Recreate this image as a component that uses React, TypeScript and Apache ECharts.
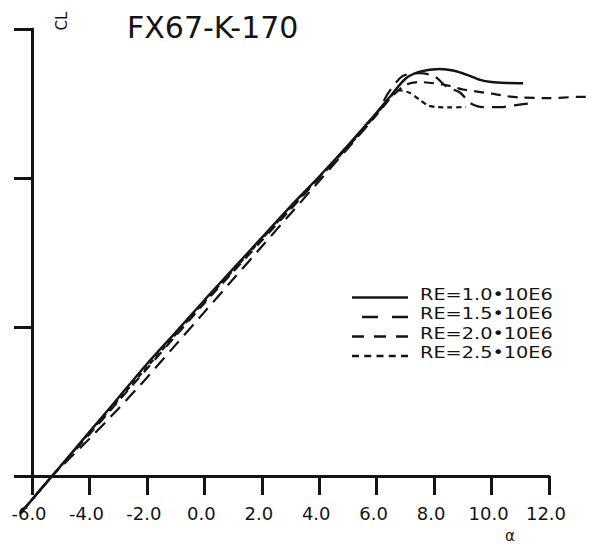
import React, { useEffect, useRef } from "react";
import * as echarts from "echarts";

// Axis ticks
const xTicks: number[] = [-6, -4, -2, 0, 2, 4, 6, 8, 10, 12];
const yTicks: number[] = [0, 0.5, 1.0, 1.5];

// Texts
const titleText = "FX67-K-170";
const yName = "CL";
const xName = "α";
const seriesNames: string[] = [
  "RE=1.0•10E6",
  "RE=1.5•10E6",
  "RE=2.0•10E6",
  "RE=2.5•10E6",
];

// [alpha, CL] pairs
const re10: [number, number][] = [
  [-6.4, -0.125], [-5.3, 0], [-4, 0.148], [-3, 0.262], [-2, 0.376], [-1, 0.482],
  [0, 0.59], [1, 0.695], [2, 0.8], [3, 0.905], [4, 1.005], [5, 1.11], [6, 1.22],
  [6.5, 1.277], [7.0, 1.333], [7.5, 1.357], [8.2, 1.366], [8.7, 1.36], [9.15, 1.346],
  [9.6, 1.329], [10.0, 1.322], [10.5, 1.319], [11.1, 1.318],
];
const re15: [number, number][] = [
  [-6.4, -0.125], [-5.3, 0], [-4, 0.125], [-3, 0.225], [-2, 0.33], [-1, 0.44],
  [0, 0.55], [1, 0.66], [2, 0.77], [3, 0.88], [4, 0.99], [5, 1.1], [6, 1.215],
  [6.4, 1.285], [6.9, 1.342], [7.5, 1.352], [8.0, 1.342], [8.45, 1.305], [8.9, 1.287],
  [9.25, 1.252], [9.7, 1.238], [10.3, 1.238], [10.8, 1.244], [11.3, 1.25],
];
const re20: [number, number][] = [
  [-6.4, -0.125], [-5.3, 0], [-4, 0.14], [-3, 0.25], [-2, 0.36], [-1, 0.47],
  [0, 0.58], [1, 0.685], [2, 0.79], [3, 0.895], [4, 1.0], [5, 1.105], [6, 1.212],
  [6.5, 1.27], [7.0, 1.312], [7.5, 1.322], [8.0, 1.318], [8.5, 1.31], [9.0, 1.297],
  [9.5, 1.29], [10.0, 1.283], [10.5, 1.275], [11.0, 1.27], [12.0, 1.268], [13.0, 1.272],
  [13.4, 1.272],
];
const re25: [number, number][] = [
  [-6.4, -0.125], [-5.3, 0], [-4, 0.145], [-3, 0.255], [-2, 0.365], [-1, 0.475],
  [0, 0.585], [1, 0.69], [2, 0.795], [3, 0.9], [4, 1.003], [5, 1.107], [6, 1.215],
  [6.4, 1.262], [6.75, 1.295], [7.16, 1.285], [7.5, 1.262], [7.8, 1.243], [8.1, 1.238],
  [8.6, 1.237], [9.1, 1.238],
];

const allData = [re10, re15, re20, re25];

// Layout / styles
const INK = "#141414";
const FONT = "DejaVu Sans";
const plotDash: (number[] | "solid")[] = ["solid", [14, 8], [10, 7], [5, 4]];
const plotWidth = [2.4, 2.2, 2.2, 2.2];
const legendDash: (number[] | null)[] = [null, [16, 14], [12, 10], [7, 5.25]];
const legendStart = [352, 362, 352, 352];

// visible plotting frame in pixels
const FRAME_LEFT = 32;
const FRAME_TOP = 29;
const FRAME_W = 517;
const FRAME_H = 447;
// wider (hidden) data frame so curves may run past the axes, like the plot
const DATA_X_MIN = -7;
const DATA_X_MAX = 13.4;
const DATA_Y_MIN = -0.2;

export default function App() {
  const ref = useRef<HTMLDivElement>(null);

  useEffect(() => {
    if (!ref.current) return;
    const chart = echarts.init(ref.current, null, { renderer: "svg" });

    const xMin = xTicks[0];
    const xMax = xTicks[xTicks.length - 1];
    const yMin = yTicks[0];
    const yMax = yTicks[yTicks.length - 1];
    const pxPerX = FRAME_W / (xMax - xMin);
    const pxPerY = FRAME_H / (yMax - yMin);

    const legendGraphics: any[] = [];
    seriesNames.forEach((name, i) => {
      const yText = 293 + i * 19.5;
      const yLine = yText + 4.5;
      legendGraphics.push({
        type: "line",
        shape: { x1: legendStart[i], y1: yLine, x2: 408, y2: yLine },
        style: {
          stroke: INK,
          lineWidth: 2.5,
          lineDash: legendDash[i] || undefined,
        },
      });
      legendGraphics.push({
        type: "text",
        x: 420,
        y: yText + 1,
        scaleX: 1.17,
        style: {
          text: name,
          fontSize: 16.5,
          fontFamily: FONT,
          fill: INK,
          align: "left",
          verticalAlign: "middle",
          textAlign: "left",
          textVerticalAlign: "middle",
        },
      });
    });

    chart.setOption({
      animation: false,
      backgroundColor: "#ffffff",
      grid: [
        {
          left: FRAME_LEFT,
          top: FRAME_TOP,
          width: FRAME_W,
          height: FRAME_H,
          containLabel: false,
          outerBoundsMode: "none",
        },
        {
          left: FRAME_LEFT - (xMin - DATA_X_MIN) * pxPerX,
          top: FRAME_TOP,
          width: (DATA_X_MAX - DATA_X_MIN) * pxPerX,
          height: (yMax - DATA_Y_MIN) * pxPerY,
          containLabel: false,
          outerBoundsMode: "none",
        },
      ],
      xAxis: [
        {
          type: "value",
          gridIndex: 0,
          min: xMin,
          max: xMax,
          interval: xTicks[1] - xTicks[0],
          axisLine: { show: true, onZero: false, lineStyle: { color: INK, width: 3 } },
          axisTick: { show: true, inside: false, length: 19, lineStyle: { color: INK, width: 3 } },
          axisLabel: {
            show: true,
            fontSize: 18,
            fontFamily: FONT,
            color: INK,
            margin: 28,
            padding: [0, 6, 0, 0],
            formatter: (v: number) => v.toFixed(1),
          },
          splitLine: { show: false },
        },
        {
          type: "value",
          gridIndex: 1,
          min: DATA_X_MIN,
          max: DATA_X_MAX,
          show: false,
          splitLine: { show: false },
        },
      ],
      yAxis: [
        {
          type: "value",
          gridIndex: 0,
          min: yMin,
          max: yMax,
          interval: yTicks[1] - yTicks[0],
          axisLine: { show: true, onZero: false, lineStyle: { color: INK, width: 3 } },
          axisTick: { show: true, inside: false, length: 18, lineStyle: { color: INK, width: 3 } },
          axisLabel: { show: false },
          splitLine: { show: false },
        },
        {
          type: "value",
          gridIndex: 1,
          min: DATA_Y_MIN,
          max: yMax,
          show: false,
          splitLine: { show: false },
        },
      ],
      series: allData.map((d, i) => ({
        name: seriesNames[i],
        type: "line",
        xAxisIndex: 1,
        yAxisIndex: 1,
        data: d,
        symbol: "none",
        showSymbol: false,
        smooth: 0.25,
        clip: false,
        lineStyle: { color: INK, width: plotWidth[i], type: plotDash[i] },
        z: 3,
      })),
      graphic: [
        {
          type: "text",
          x: 127,
          y: 27,
          style: {
            text: titleText,
            fontSize: 30,
            fontFamily: FONT,
            fill: INK,
            align: "left",
            verticalAlign: "middle",
            textAlign: "left",
            textVerticalAlign: "middle",
          },
        },
        {
          type: "text",
          x: 62,
          y: 21,
          rotation: Math.PI / 2,
          style: {
            text: yName,
            fontSize: 15,
            fontFamily: FONT,
            fill: INK,
            align: "center",
            verticalAlign: "middle",
            textAlign: "center",
            textVerticalAlign: "middle",
          },
        },
        {
          type: "text",
          x: 510,
          y: 543,
          style: {
            text: xName,
            fontSize: 15,
            fontFamily: FONT,
            fill: INK,
            align: "center",
            verticalAlign: "bottom",
            textAlign: "center",
            textVerticalAlign: "bottom",
          },
        },
        ...legendGraphics,
      ],
    });

    return () => chart.dispose();
  }, []);

  return (
    <div
      ref={ref}
      style={{ position: "fixed", left: 0, top: 0, width: 589, height: 544, background: "#fff" }}
    />
  );
}
